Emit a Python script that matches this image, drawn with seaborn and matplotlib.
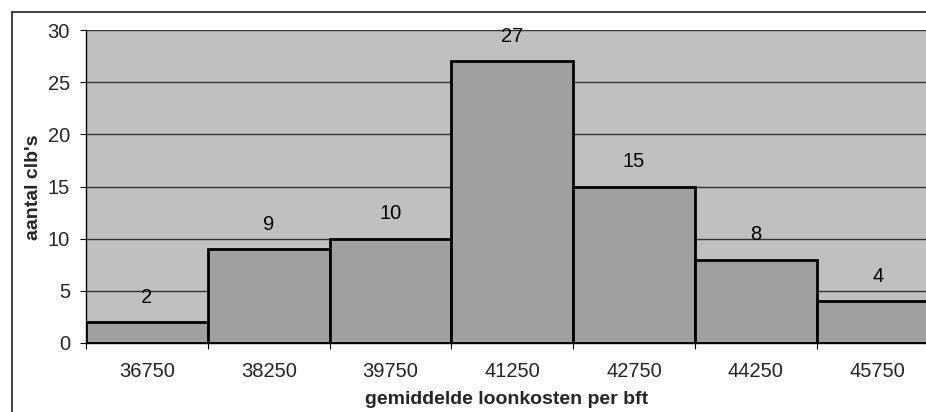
import numpy as np
import pandas as pd
import matplotlib
matplotlib.use("Agg")
import matplotlib.pyplot as plt
from matplotlib.patches import Rectangle
import seaborn as sns

# Histogram of average wage costs per bft
bin_centres = ["36750", "38250", "39750", "41250", "42750", "44250", "45750"]
counts = [2, 9, 10, 27, 15, 8, 4]
y_ticks = [0, 5, 10, 15, 20, 25, 30]

sns.set_theme(style="white")
plt.rcParams["font.family"] = ["Liberation Sans", "DejaVu Sans"]

NUM_FS = 14.5
LABEL_FS = 14

W, H = 926, 412
fig = plt.figure(figsize=(W / 100, H / 100), dpi=100)
fig.patch.set_facecolor("white")

# chart frame (runs off the right and bottom edges)
fig.patches.append(Rectangle((11.5 / W, -0.5), 1.2, (H - 11.5) / H + 0.5,
                             transform=fig.transFigure, fill=False,
                             edgecolor="#333333", linewidth=1.3, zorder=0))

left, right, top, bottom = 86, 938.6, 30, 343
ax = fig.add_axes([left / W, (H - bottom) / H, (right - left) / W, (bottom - top) / H])
ax.set_facecolor("#C0C0C0")

df = pd.DataFrame({"bin": bin_centres, "n": counts})
sns.barplot(data=df, x="bin", y="n", color="#A0A0A0", saturation=1,
            edgecolor="black", linewidth=2, width=1, ax=ax, zorder=3)

ax.set_xlim(-0.5, len(bin_centres) - 0.5)
ax.set_ylim(0, 30)
ax.set_yticks(y_ticks)
ax.yaxis.grid(True, color="#333333", linewidth=1)
ax.set_axisbelow(True)

for s in ["top", "right"]:
    ax.spines[s].set_visible(False)
for s in ["left", "bottom"]:
    ax.spines[s].set_visible(True)
    ax.spines[s].set_color("black")
    ax.spines[s].set_linewidth(1)
ax.spines["bottom"].set_zorder(4)

# tick marks on the bin edges, labels at bin centres
ax.set_xticks(np.arange(-0.5, len(bin_centres), 1))
ax.set_xticklabels([])
ax.set_xticks(np.arange(len(bin_centres)), minor=True)
ax.set_xticklabels(bin_centres, minor=True, fontsize=NUM_FS)
ax.tick_params(axis="x", which="major", direction="out", length=4.5, width=0.8,
               color="black", bottom=True)
ax.tick_params(axis="x", which="minor", length=0, pad=13.5, bottom=True)
ax.tick_params(axis="y", direction="out", length=4.5, width=0.8, color="black",
               left=True, pad=7, labelsize=NUM_FS)

for i, v in enumerate(counts):
    ax.annotate(str(v), (i, v), xytext=(0, 18), textcoords="offset points",
                ha="center", va="center", fontsize=NUM_FS, color="black", zorder=5)

ax.set_xlabel("")
ax.set_ylabel("")
fig.text(33 / W, 1 - 187 / H, "aantal clb's", rotation=90, ha="center", va="center",
         fontsize=LABEL_FS, fontweight="bold")
fig.text(507 / W, 1 - 399 / H, "gemiddelde loonkosten per bft", ha="center",
         va="center", fontsize=LABEL_FS, fontweight="bold")

fig.savefig("out.png", dpi=100)
